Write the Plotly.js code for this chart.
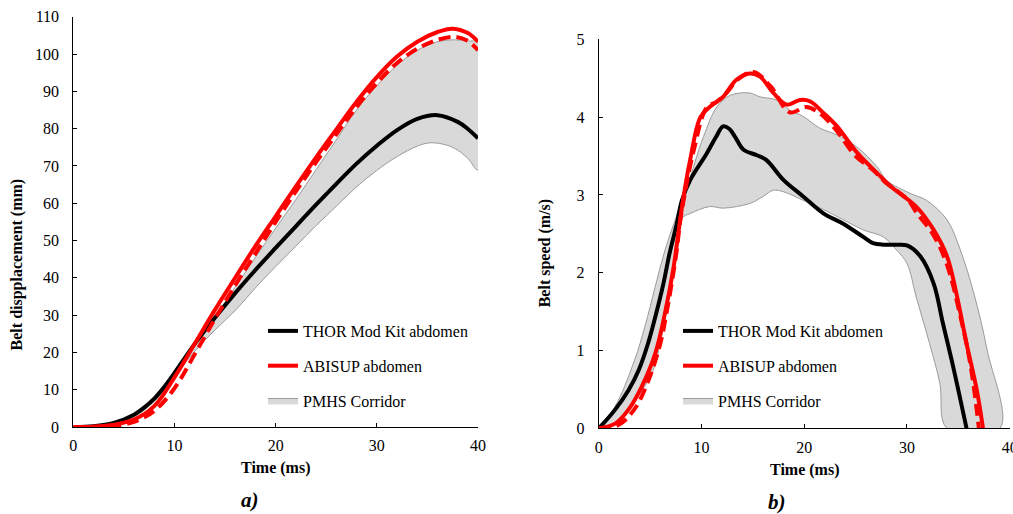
<!DOCTYPE html>
<html>
<head>
<meta charset="utf-8">
<script src="https://cdn.plot.ly/plotly-3.0.1.min.js"></script>
<style>html,body{margin:0;padding:0;background:#fff;}#chart{width:1013px;height:514px;}</style>
</head>
<body>
<div id="chart"></div>
<script>
// ---------- a) Belt displacement (mm) vs time (ms) ----------
var dispThorT = [0,2,4,6,7,8,9,10,12,14,16,18,20,22,24,26,28,30,32,34,36,38,39,40];
var dispThor  = [0,0.2,1.1,3.3,5.2,7.6,10.8,14.5,22.3,29.3,35.9,42.1,48,53.8,59.6,65.2,70.6,75.4,79.6,82.6,83.6,81.8,79.9,77.4];

var dispAbisupT = [0,2,4,6,8,10,12,14,16,18,20,22,24,26,28,30,32,34,36,37.5,39,40];
var dispAbisup  = [0,0.1,0.6,2,5.6,13.3,22.3,31.4,40,48.5,56.5,64.5,72.3,79.8,87.2,93.8,99.3,103.3,105.9,106.8,105.6,103.3];

var dispAbisup2T = [0,2,4,6,8,10,12,14,16,18,20,22,24,26,28,30,32,34,36,37.7,39,40];
var dispAbisup2  = [0,0,0.3,1.4,4.3,10.4,19.5,29,38,46.5,55,63.2,71,78.5,85.8,92.2,97.6,101.4,103.8,104.6,103.5,101];

var dispUpperT = [0,2,4,6,8,10,12,14,16,18,20,22,24,26,28,30,32,34,36,37.7,39,40];
var dispUpper  = [0,0.3,1.2,3.4,7.6,14.3,21.8,29.5,37.5,45.5,53.3,61,69,77,85,91.5,97,101,103.3,103.8,103.5,103];

var dispLowerT = [0,2,4,6,8,10,12,14,16,18,20,22,24,26,28,30,32,34,35.3,37,38,39,40];
var dispLower  = [0,0.2,0.9,2.8,6.8,13.5,20.3,26,31.2,37.3,43,48.5,54,59.2,64.4,68.8,72.5,75.3,76.2,75.5,74.2,72,68.9];

// ---------- b) Belt speed (m/s) vs time (ms) ----------
var speedThorT = [0,0.3,1.6,2.9,3.9,4.8,5.6,6.3,6.9,7.6,8.1,8.9,10.5,11.4,12.1,12.7,13.3,14.1,15.4,16.3,18,19.9,21.9,23.8,25.75,26.7,27.7,29,30,31.3,32.6,33.5,34.5,35.8];
var speedThor  = [0,0.04,0.24,0.49,0.75,1.09,1.48,1.86,2.25,2.63,2.93,3.19,3.53,3.74,3.88,3.85,3.74,3.58,3.51,3.45,3.19,2.98,2.76,2.63,2.46,2.38,2.36,2.36,2.35,2.21,1.86,1.35,0.79,0];

var speedAbisupT = [0,1.6,2.9,4.2,5.5,6.45,7.3,7.75,8.2,8.9,9.9,10.8,12.1,13.4,14.7,15.7,17,18.3,19.6,20.6,21.9,23.2,25.1,27.1,28.5,30.9,32.6,33.9,34.8,35.8,36.8,37.4];
var speedAbisup  = [0,0.06,0.24,0.54,0.96,1.48,2.08,2.51,2.93,3.45,4.0,4.13,4.26,4.48,4.56,4.52,4.31,4.16,4.22,4.2,4.05,3.88,3.55,3.28,3.1,2.85,2.55,2.21,1.74,1.09,0.49,0];

var speedAbisup2T = [0,2,3.5,4.8,6,6.6,7.1,7.6,7.9,8.5,9.3,10.5,11.5,12.5,13.5,15.05,16.7,18.6,20.2,21.5,23,25,26.7,28,30,31,32.6,33.9,35.2,36.2,37];
var speedAbisup2  = [0,0.05,0.25,0.6,1.09,1.48,1.86,2.29,2.63,3.1,3.6,4.12,4.2,4.32,4.48,4.58,4.4,4.06,4.13,4.05,3.85,3.5,3.32,3.15,2.95,2.76,2.48,2.1,1.44,0.8,0];

var speedUpperT = [0,1.6,3.5,4.5,5.5,6.45,7.5,8.6,10.2,11.5,12.8,14.7,15.7,17.3,18.6,19.9,21.5,23.2,25.1,27.1,28,30.3,31.9,33.9,35.2,36.5,37.8,39.05];
var speedUpper  = [0,0.28,0.88,1.31,1.82,2.29,2.7,3.1,3.75,4.13,4.28,4.31,4.26,4.22,4.09,4.01,3.86,3.77,3.62,3.36,3.19,3.02,2.93,2.68,2.29,1.74,1.01,0];

var speedLowerT = [0,2,3.5,5.2,6,6.5,7,7.5,8.1,8.9,10.8,12.1,14.7,16,17,18,19.9,21.9,23.8,25.75,27.7,29,30,30.9,32.2,33.2,33.9];
var speedLower  = [0,0.1,0.35,0.71,1.1,1.45,1.85,2.3,2.7,2.76,2.85,2.83,2.89,2.98,3.06,3.04,2.93,2.81,2.68,2.55,2.46,2.29,2.12,1.69,1.09,0.58,0];

var names = ["THOR Mod Kit abdomen", "ABISUP abdomen", "PMHS Corridor"];
var panelLabels = ["a)", "b)"];
var xTitle = "Time (ms)";
var yTitles = ["Belt dispplacement (mm)", "Belt speed (m/s)"];

function rev(a){ return a.slice().reverse(); }

var FONT = "'Liberation Serif', 'Times New Roman', serif";
var SM = 1.0;

function panelTraces(xa, ya, leg, upT, up, loT, lo, thT, th, abT, ab, ab2T, ab2) {
  return [
    {x: upT.concat(rev(loT)), y: up.concat(rev(lo)), xaxis: xa, yaxis: ya, type: "scatter", mode: "lines",
     fill: "toself", fillcolor: "#d9d9d9", line: {color: "#9a9a9a", width: 1, shape: "spline", smoothing: SM},
     name: names[2], legend: leg, legendgroup: leg + "c", legendrank: 3, hoverinfo: "skip"},
    {x: thT, y: th, xaxis: xa, yaxis: ya, type: "scatter", mode: "lines",
     line: {color: "#000000", width: 4, shape: "spline", smoothing: SM},
     name: names[0], legend: leg, legendgroup: leg + "a", legendrank: 1},
    {x: ab2T, y: ab2, xaxis: xa, yaxis: ya, type: "scatter", mode: "lines",
     line: {color: "#ff0000", width: 4, dash: "12px,6px", shape: "spline", smoothing: SM},
     name: names[1] + " (2)", showlegend: false, legend: leg, legendgroup: leg + "d"},
    {x: abT, y: ab, xaxis: xa, yaxis: ya, type: "scatter", mode: "lines",
     line: {color: "#ff0000", width: 4, shape: "spline", smoothing: SM},
     name: names[1], legend: leg, legendgroup: leg + "b", legendrank: 2}
  ];
}

var data = panelTraces("x", "y", "legend", dispUpperT, dispUpper, dispLowerT, dispLower,
                       dispThorT, dispThor, dispAbisupT, dispAbisup, dispAbisup2T, dispAbisup2)
  .concat(panelTraces("x2", "y2", "legend2", speedUpperT, speedUpper, speedLowerT, speedLower,
                       speedThorT, speedThor, speedAbisupT, speedAbisup, speedAbisup2T, speedAbisup2));

function axis(extra) {
  var base = {showline: true, linecolor: "#000", linewidth: 1, ticks: "inside", ticklen: 4,
              tickcolor: "#000", tickwidth: 1, showgrid: false, zeroline: false,
              ticklabeloverflow: "allow",
              tickfont: {family: FONT, size: 16, color: "#000"}, fixedrange: true};
  for (var k in extra) base[k] = extra[k];
  return base;
}

var W = 1013, H = 514;
function px(v){ return v / W; }
function py(v){ return 1 - v / H; }

var legendCommon = {font: {family: FONT, size: 16, color: "#000"}, bgcolor: "rgba(0,0,0,0)",
                    tracegroupgap: 11, yanchor: "middle", xanchor: "left", traceorder: "grouped"};

var layout = {
  width: W, height: H,
  margin: {l: 0, r: 0, t: 0, b: 0},
  paper_bgcolor: "#fff", plot_bgcolor: "#fff",
  font: {family: FONT, color: "#000"},
  xaxis:  axis({domain: [px(73.3), px(478)], range: [0, 40], dtick: 10, anchor: "y", ticklabelstandoff: 4}),
  yaxis:  axis({domain: [py(427), py(16.7)], range: [0, 110], dtick: 10, anchor: "x", ticklabelstandoff: 10}),
  xaxis2: axis({domain: [px(598.7), px(1009.7)], range: [0, 40], dtick: 10, anchor: "y2", ticklabelstandoff: 4}),
  yaxis2: axis({domain: [py(428.3), py(39.3)], range: [0, 5], dtick: 1, anchor: "x2", ticklabelstandoff: 10}),
  showlegend: true,
  legend:  Object.assign({x: px(263), y: py(366)}, legendCommon),
  legend2: Object.assign({x: px(678), y: py(366)}, legendCommon),
  annotations: [
    {text: "<b>" + yTitles[0] + "</b>", x: px(16.7), y: py(264.7), xref: "paper", yref: "paper",
     textangle: -90, showarrow: false, xanchor: "center", yanchor: "middle", font: {family: FONT, size: 16, color: "#000"}},
    {text: "<b>" + yTitles[1] + "</b>", x: px(545), y: py(253.3), xref: "paper", yref: "paper",
     textangle: -90, showarrow: false, xanchor: "center", yanchor: "middle", font: {family: FONT, size: 16, color: "#000"}},
    {text: "<b>" + xTitle + "</b>", x: px(275.3), y: py(468), xref: "paper", yref: "paper",
     showarrow: false, xanchor: "center", yanchor: "middle", font: {family: FONT, size: 16, color: "#000"}},
    {text: "<b>" + xTitle + "</b>", x: px(804.3), y: py(470), xref: "paper", yref: "paper",
     showarrow: false, xanchor: "center", yanchor: "middle", font: {family: FONT, size: 16, color: "#000"}},
    {text: "<b><i>" + panelLabels[0] + "</i></b>", x: px(250), y: py(500), xref: "paper", yref: "paper",
     showarrow: false, xanchor: "center", yanchor: "middle", font: {family: FONT, size: 21, color: "#000"}},
    {text: "<b><i>" + panelLabels[1] + "</i></b>", x: px(776.7), y: py(501.7), xref: "paper", yref: "paper",
     showarrow: false, xanchor: "center", yanchor: "middle", font: {family: FONT, size: 21, color: "#000"}}
  ]
};

Plotly.newPlot("chart", data, layout, {displayModeBar: false, staticPlot: true});
</script>
</body>
</html>
